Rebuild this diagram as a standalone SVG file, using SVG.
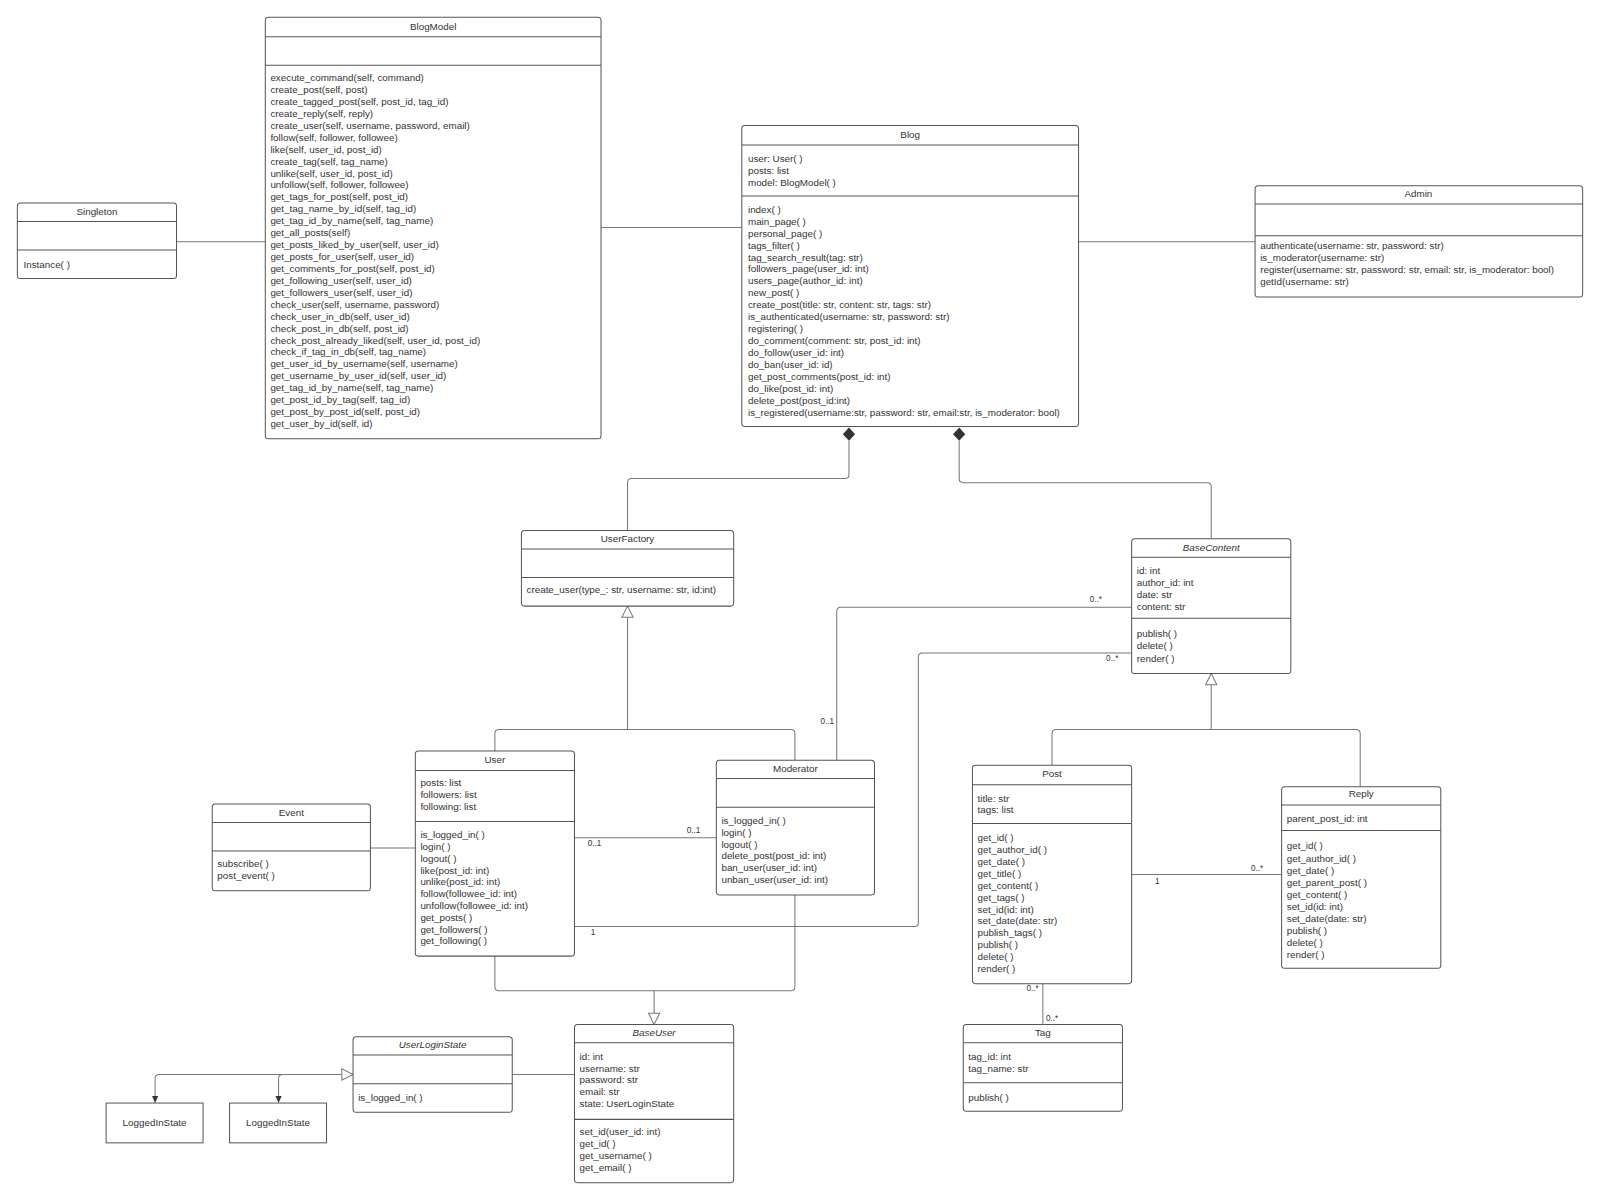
<svg xmlns="http://www.w3.org/2000/svg" width="1600" height="1201" viewBox="0 0 1600 1201">
<style>
.box{fill:#fff;stroke:#555;stroke-width:1}
.div{stroke:#555;stroke-width:1}
.t{font-family:"Liberation Sans",Arial,sans-serif;font-size:9.65px;fill:#333}
.h{font-family:"Liberation Sans",Arial,sans-serif;font-size:9.65px;fill:#333;text-anchor:middle}
.i{font-style:italic}
.c{fill:none;stroke:#777;stroke-width:1}
.lbl{font-family:"Liberation Sans",Arial,sans-serif;font-size:8px;fill:#333}
</style>
<rect width="1600" height="1201" fill="#fff"/>
<g transform="scale(1.0204)">
<g id="connectors">
<path class="c" d="M173 237 H260"/>
<path class="c" d="M589 223 H727"/>
<path class="c" d="M1057 237 H1230"/>
<path class="c" d="M832 432 V465 Q832 469 828 469 H619 Q615 469 615 473 V520"/>
<polygon points="832,419 838,425.5 832,432 826,425.5" fill="#333"/>
<path class="c" d="M940 432 V469 Q940 473 944 473 H1183 Q1187 473 1187 477 V528"/>
<polygon points="940,419 946,425.5 940,432 934,425.5" fill="#333"/>
<path class="c" d="M615 605 V715 M485 736 V719 Q485 715 489 715 H775 Q779 715 779 719 V745"/>
<polygon points="615,594 620.5,605 609.5,605" fill="#fff" stroke="#777"/>
<path class="c" d="M1187 671 V715 M1031 750 V719 Q1031 715 1035 715 H1329 Q1333 715 1333 719 V771"/>
<polygon points="1187,660 1192.5,671 1181.5,671" fill="#fff" stroke="#777"/>
<path class="c" d="M485 937 V967 Q485 971 489 971 H775 Q779 971 779 967 V877 M641 971 V993"/>
<polygon points="641,1004 635.5,993 646.5,993" fill="#fff" stroke="#777"/>
<path class="c" d="M363 831 H407"/>
<path class="c" d="M563 821 H702"/>
<path class="c" d="M820 745 V599 Q820 595 824 595 H1109"/>
<path class="c" d="M563 908 H896 Q900 908 900 904 V644 Q900 640 904 640 H1109"/>
<path class="c" d="M1109 857 H1256"/>
<path class="c" d="M1022 964 V1004"/>
<path class="c" d="M502 1053 H563"/>
<path class="c" d="M335 1053 H156 Q152 1053 152 1057 V1075 M277 1053 Q273 1053 273 1057 V1075"/>
<polygon points="346,1053 335,1047.5 335,1058.5" fill="#fff" stroke="#777"/>
<polygon points="152,1081 149,1074 155,1074" fill="#333"/>
<polygon points="273,1081 270,1074 276,1074" fill="#333"/>
<text class="lbl" x="576" y="829">0..1</text>
<text class="lbl" x="673" y="816">0..1</text>
<text class="lbl" x="804" y="710">0..1</text>
<text class="lbl" x="1068" y="590">0..*</text>
<text class="lbl" x="1084" y="648">0..*</text>
<text class="lbl" x="579" y="916">1</text>
<text class="lbl" x="1132" y="866">1</text>
<text class="lbl" x="1226" y="854">0..*</text>
<text class="lbl" x="1006" y="971">0..*</text>
<text class="lbl" x="1025" y="1001">0..*</text>
</g>
<g id="BlogModel">
<rect class="box" x="260" y="17" width="329" height="413" rx="3"/>
<line class="div" x1="260" y1="36" x2="589" y2="36"/>
<line class="div" x1="260" y1="64" x2="589" y2="64"/>
<text class="h" x="424.5" y="29">BlogModel</text>
<text class="t"><tspan x="265" y="79.5">execute_command(self, command)</tspan><tspan x="265" dy="11.69">create_post(self, post)</tspan><tspan x="265" dy="11.69">create_tagged_post(self, post_id, tag_id)</tspan><tspan x="265" dy="11.69">create_reply(self, reply)</tspan><tspan x="265" dy="11.69">create_user(self, username, password, email)</tspan><tspan x="265" dy="11.69">follow(self, follower, followee)</tspan><tspan x="265" dy="11.69">like(self, user_id, post_id)</tspan><tspan x="265" dy="11.69">create_tag(self, tag_name)</tspan><tspan x="265" dy="11.69">unlike(self, user_id, post_id)</tspan><tspan x="265" dy="11.69">unfollow(self, follower, followee)</tspan><tspan x="265" dy="11.69">get_tags_for_post(self, post_id)</tspan><tspan x="265" dy="11.69">get_tag_name_by_id(self, tag_id)</tspan><tspan x="265" dy="11.69">get_tag_id_by_name(self, tag_name)</tspan><tspan x="265" dy="11.69">get_all_posts(self)</tspan><tspan x="265" dy="11.69">get_posts_liked_by_user(self, user_id)</tspan><tspan x="265" dy="11.69">get_posts_for_user(self, user_id)</tspan><tspan x="265" dy="11.69">get_comments_for_post(self, post_id)</tspan><tspan x="265" dy="11.69">get_following_user(self, user_id)</tspan><tspan x="265" dy="11.69">get_followers_user(self, user_id)</tspan><tspan x="265" dy="11.69">check_user(self, username, password)</tspan><tspan x="265" dy="11.69">check_user_in_db(self, user_id)</tspan><tspan x="265" dy="11.69">check_post_in_db(self, post_id)</tspan><tspan x="265" dy="11.69">check_post_already_liked(self, user_id, post_id)</tspan><tspan x="265" dy="11.69">check_if_tag_in_db(self, tag_name)</tspan><tspan x="265" dy="11.69">get_user_id_by_username(self, username)</tspan><tspan x="265" dy="11.69">get_username_by_user_id(self, user_id)</tspan><tspan x="265" dy="11.69">get_tag_id_by_name(self, tag_name)</tspan><tspan x="265" dy="11.69">get_post_id_by_tag(self, tag_id)</tspan><tspan x="265" dy="11.69">get_post_by_post_id(self, post_id)</tspan><tspan x="265" dy="11.69">get_user_by_id(self, id)</tspan></text>
</g>
<g id="Blog">
<rect class="box" x="727" y="123" width="330" height="295" rx="3"/>
<line class="div" x1="727" y1="142" x2="1057" y2="142"/>
<line class="div" x1="727" y1="192" x2="1057" y2="192"/>
<text class="h" x="892" y="135">Blog</text>
<text class="t"><tspan x="733" y="158.5">user: User( )</tspan><tspan x="733" dy="11.7">posts: list</tspan><tspan x="733" dy="11.7">model: BlogModel( )</tspan></text>
<text class="t"><tspan x="733" y="208.5">index( )</tspan><tspan x="733" dy="11.7">main_page( )</tspan><tspan x="733" dy="11.7">personal_page( )</tspan><tspan x="733" dy="11.7">tags_filter( )</tspan><tspan x="733" dy="11.7">tag_search_result(tag: str)</tspan><tspan x="733" dy="11.7">followers_page(user_id: int)</tspan><tspan x="733" dy="11.7">users_page(author_id: int)</tspan><tspan x="733" dy="11.7">new_post( )</tspan><tspan x="733" dy="11.7">create_post(title: str, content: str, tags: str)</tspan><tspan x="733" dy="11.7">is_authenticated(username: str, password: str)</tspan><tspan x="733" dy="11.7">registering( )</tspan><tspan x="733" dy="11.7">do_comment(comment: str, post_id: int)</tspan><tspan x="733" dy="11.7">do_follow(user_id: int)</tspan><tspan x="733" dy="11.7">do_ban(user_id: id)</tspan><tspan x="733" dy="11.7">get_post_comments(post_id: int)</tspan><tspan x="733" dy="11.7">do_like(post_id: int)</tspan><tspan x="733" dy="11.7">delete_post(post_id:int)</tspan><tspan x="733" dy="11.7">is_registered(username:str, password: str, email:str, is_moderator: bool)</tspan></text>
</g>
<g id="Singleton">
<rect class="box" x="17" y="199" width="156" height="74" rx="3"/>
<line class="div" x1="17" y1="217" x2="173" y2="217"/>
<line class="div" x1="17" y1="245" x2="173" y2="245"/>
<text class="h" x="95" y="211">Singleton</text>
<text class="t" x="23" y="262.5">Instance( )</text>
</g>
<g id="Admin">
<rect class="box" x="1230" y="182" width="321" height="109" rx="3"/>
<line class="div" x1="1230" y1="200" x2="1551" y2="200"/>
<line class="div" x1="1230" y1="231" x2="1551" y2="231"/>
<text class="h" x="1390" y="193">Admin</text>
<text class="t"><tspan x="1235" y="244.5">authenticate(username: str, password: str)</tspan><tspan x="1235" dy="11.7">is_moderator(username: str)</tspan><tspan x="1235" dy="11.7">register(username: str, password: str, email: str, is_moderator: bool)</tspan><tspan x="1235" dy="11.7">getId(username: str)</tspan></text>
</g>
<g id="UserFactory">
<rect class="box" x="511" y="520" width="208" height="74" rx="3"/>
<line class="div" x1="511" y1="538" x2="719" y2="538"/>
<line class="div" x1="511" y1="566" x2="719" y2="566"/>
<text class="h" x="615" y="531">UserFactory</text>
<text class="t" x="516" y="581.5">create_user(type_: str, username: str, id:int)</text>
</g>
<g id="BaseContent">
<rect class="box" x="1109" y="528" width="156" height="132" rx="3"/>
<line class="div" x1="1109" y1="546" x2="1265" y2="546"/>
<line class="div" x1="1109" y1="606" x2="1265" y2="606"/>
<text class="h i" x="1187" y="539.5">BaseContent</text>
<text class="t"><tspan x="1114" y="562.5">id: int</tspan><tspan x="1114" dy="11.7">author_id: int</tspan><tspan x="1114" dy="11.7">date: str</tspan><tspan x="1114" dy="11.7">content: str</tspan></text>
<text class="t"><tspan x="1114" y="624.5">publish( )</tspan><tspan x="1114" dy="11.9">delete( )</tspan><tspan x="1114" dy="11.9">render( )</tspan></text>
</g>
<g id="User">
<rect class="box" x="407" y="736" width="156" height="201" rx="3"/>
<line class="div" x1="407" y1="755" x2="563" y2="755"/>
<line class="div" x1="407" y1="805" x2="563" y2="805"/>
<text class="h" x="485" y="747.5">User</text>
<text class="t"><tspan x="412" y="770.5">posts: list</tspan><tspan x="412" dy="11.6">followers: list</tspan><tspan x="412" dy="11.6">following: list</tspan></text>
<text class="t"><tspan x="412" y="821.5">is_logged_in( )</tspan><tspan x="412" dy="11.56">login( )</tspan><tspan x="412" dy="11.56">logout( )</tspan><tspan x="412" dy="11.56">like(post_id: int)</tspan><tspan x="412" dy="11.56">unlike(post_id: int)</tspan><tspan x="412" dy="11.56">follow(followee_id: int)</tspan><tspan x="412" dy="11.56">unfollow(followee_id: int)</tspan><tspan x="412" dy="11.56">get_posts( )</tspan><tspan x="412" dy="11.56">get_followers( )</tspan><tspan x="412" dy="11.56">get_following( )</tspan></text>
</g>
<g id="Event">
<rect class="box" x="208" y="788" width="155" height="85" rx="3"/>
<line class="div" x1="208" y1="806" x2="363" y2="806"/>
<line class="div" x1="208" y1="834" x2="363" y2="834"/>
<text class="h" x="285.5" y="799.5">Event</text>
<text class="t"><tspan x="213" y="849.5">subscribe( )</tspan><tspan x="213" dy="11.7">post_event( )</tspan></text>
</g>
<g id="Moderator">
<rect class="box" x="702" y="745" width="155" height="132" rx="3"/>
<line class="div" x1="702" y1="763" x2="857" y2="763"/>
<line class="div" x1="702" y1="791" x2="857" y2="791"/>
<text class="h" x="779.5" y="756.5">Moderator</text>
<text class="t"><tspan x="707" y="807.5">is_logged_in( )</tspan><tspan x="707" dy="11.6">login( )</tspan><tspan x="707" dy="11.6">logout( )</tspan><tspan x="707" dy="11.6">delete_post(post_id: int)</tspan><tspan x="707" dy="11.6">ban_user(user_id: int)</tspan><tspan x="707" dy="11.6">unban_user(user_id: int)</tspan></text>
</g>
<g id="Post">
<rect class="box" x="953" y="750" width="156" height="214" rx="3"/>
<line class="div" x1="953" y1="769" x2="1109" y2="769"/>
<line class="div" x1="953" y1="807" x2="1109" y2="807"/>
<text class="h" x="1031" y="761.5">Post</text>
<text class="t"><tspan x="958" y="785.5">title: str</tspan><tspan x="958" dy="11.6">tags: list</tspan></text>
<text class="t"><tspan x="958" y="824.5">get_id( )</tspan><tspan x="958" dy="11.64">get_author_id( )</tspan><tspan x="958" dy="11.64">get_date( )</tspan><tspan x="958" dy="11.64">get_title( )</tspan><tspan x="958" dy="11.64">get_content( )</tspan><tspan x="958" dy="11.64">get_tags( )</tspan><tspan x="958" dy="11.64">set_id(id: int)</tspan><tspan x="958" dy="11.64">set_date(date: str)</tspan><tspan x="958" dy="11.64">publish_tags( )</tspan><tspan x="958" dy="11.64">publish( )</tspan><tspan x="958" dy="11.64">delete( )</tspan><tspan x="958" dy="11.64">render( )</tspan></text>
</g>
<g id="Reply">
<rect class="box" x="1256" y="771" width="156" height="178" rx="3"/>
<line class="div" x1="1256" y1="789" x2="1412" y2="789"/>
<line class="div" x1="1256" y1="814" x2="1412" y2="814"/>
<text class="h" x="1334" y="781.5">Reply</text>
<text class="t" x="1261" y="805.5">parent_post_id: int</text>
<text class="t"><tspan x="1261" y="832.5">get_id( )</tspan><tspan x="1261" dy="11.78">get_author_id( )</tspan><tspan x="1261" dy="11.78">get_date( )</tspan><tspan x="1261" dy="11.78">get_parent_post( )</tspan><tspan x="1261" dy="11.78">get_content( )</tspan><tspan x="1261" dy="11.78">set_id(id: int)</tspan><tspan x="1261" dy="11.78">set_date(date: str)</tspan><tspan x="1261" dy="11.78">publish( )</tspan><tspan x="1261" dy="11.78">delete( )</tspan><tspan x="1261" dy="11.78">render( )</tspan></text>
</g>
<g id="Tag">
<rect class="box" x="944" y="1004" width="156" height="85" rx="3"/>
<line class="div" x1="944" y1="1022" x2="1100" y2="1022"/>
<line class="div" x1="944" y1="1061" x2="1100" y2="1061"/>
<text class="h" x="1022" y="1015.5">Tag</text>
<text class="t"><tspan x="949" y="1038.5">tag_id: int</tspan><tspan x="949" dy="11.7">tag_name: str</tspan></text>
<text class="t" x="949" y="1078.5">publish( )</text>
</g>
<g id="BaseUser">
<rect class="box" x="563" y="1004" width="156" height="155" rx="3"/>
<line class="div" x1="563" y1="1022" x2="719" y2="1022"/>
<line class="div" x1="563" y1="1097" x2="719" y2="1097"/>
<text class="h i" x="641" y="1015.5">BaseUser</text>
<text class="t"><tspan x="568" y="1038.5">id: int</tspan><tspan x="568" dy="11.6">username: str</tspan><tspan x="568" dy="11.6">password: str</tspan><tspan x="568" dy="11.6">email: str</tspan><tspan x="568" dy="11.6">state: UserLoginState</tspan></text>
<text class="t"><tspan x="568" y="1112.5">set_id(user_id: int)</tspan><tspan x="568" dy="11.7">get_id( )</tspan><tspan x="568" dy="11.7">get_username( )</tspan><tspan x="568" dy="11.7">get_email( )</tspan></text>
</g>
<g id="UserLoginState">
<rect class="box" x="346" y="1016" width="156" height="74" rx="3"/>
<line class="div" x1="346" y1="1034" x2="502" y2="1034"/>
<line class="div" x1="346" y1="1062" x2="502" y2="1062"/>
<text class="h i" x="424" y="1027.5">UserLoginState</text>
<text class="t" x="351" y="1078.5">is_logged_in( )</text>
</g>
<g id="LoggedInState1">
<rect class="box" x="104" y="1081" width="95" height="39"/>
<text class="h" x="151.5" y="1103.5">LoggedInState</text>
</g>
<g id="LoggedInState2">
<rect class="box" x="225" y="1081" width="95" height="39"/>
<text class="h" x="272.5" y="1103.5">LoggedInState</text>
</g>
</g>
</svg>
